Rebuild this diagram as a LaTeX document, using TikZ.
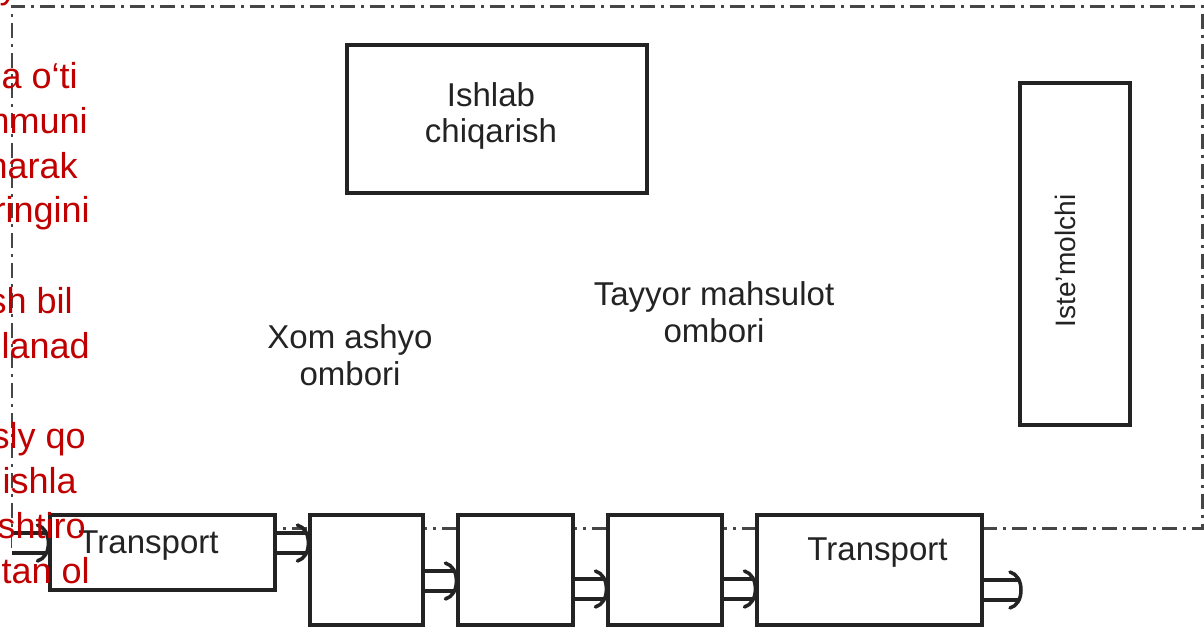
\documentclass[tikz,border=0pt]{standalone}
\usepackage{fontspec}
\setmainfont{Liberation Sans}
\usetikzlibrary{calc}
\definecolor{redtxt}{RGB}{192,0,0}
\definecolor{ink}{RGB}{35,35,35}
\definecolor{bnd}{RGB}{70,70,70}
\begin{document}
\begin{tikzpicture}[x=0.02cm,y=-0.02cm,
  box/.style={draw=ink, line width=0.065cm, fill=white, inner sep=0pt},
  lbl/.style={font=\fontsize{18.8pt}{21pt}\selectfont, text=ink, align=center, inner sep=0pt},
  dbl/.style={draw=ink, line width=0.08cm, double=white, double distance=0.33cm, shorten >=0.06cm},
  captip/.style={draw=ink, line width=0.07cm, line cap=round},
  bound/.style={draw=bnd, line width=0.06cm, dash pattern=on 0.3cm off 0.12cm on 0.06cm off 0.12cm},
  fragment/.style={font=\fontsize{20.5pt}{24pt}\selectfont, text=redtxt, anchor=base east, inner sep=0pt}]
\useasboundingbox (0,0) rectangle (1204,627);
\clip (0,0) rectangle (1204,627);
% enclosing boundary
\coordinate (bstart) at (12,548);
\coordinate (bend) at (275,528);
\draw[bound] (bstart) -- (12,6) -- (1202,6) -- (1202,528) -- (bend);
% top boxes
\node[box, minimum width=6cm, minimum height=2.96cm,
  label={[lbl, xshift=-0.12cm, yshift=0.06cm]center:Ishlab\\chiqarish}] (prod) at (497,119) {};
\node[box, minimum width=2.2cm, minimum height=6.84cm] (cons) at (1075,254) {};
\node[lbl, font=\fontsize{16pt}{19pt}\selectfont, rotate=90] (consl) at (1065,261) {Iste’molchi};
% bottom chain
\node[box, minimum width=4.5cm, minimum height=1.5cm,
  label={[lbl, xshift=-0.28cm, yshift=0.13cm]center:Transport}] (t1) at (162.5,552.5) {};
\node[box, minimum width=2.26cm, minimum height=2.2cm] (b2) at (366.5,570) {};
\node[box, minimum width=2.3cm, minimum height=2.2cm] (b3) at (515.5,570) {};
\node[box, minimum width=2.28cm, minimum height=2.2cm] (b4) at (665,570) {};
\node[box, minimum width=4.5cm, minimum height=2.2cm,
  label={[lbl, xshift=0.16cm, yshift=0.35cm]center:Transport}] (t2) at (869.5,570) {};
% flows
\coordinate (in) at (12,543);
\coordinate (out) at (1021,590);
\coordinate (f1a) at ([yshift=0.19cm]t1.east);
\coordinate (f2a) at ([yshift=-0.22cm]b2.east);
\coordinate (f3a) at ([yshift=-0.38cm]b3.east);
\coordinate (f4a) at ([yshift=-0.38cm]b4.east);
\coordinate (f5a) at (out -| t2.east);
\coordinate (f0b) at (in -| t1.west);
\coordinate (f1b) at (f1a -| b2.west);
\coordinate (f2b) at (f2a -| b3.west);
\coordinate (f3b) at (f3a -| b4.west);
\coordinate (f4b) at (f4a -| t2.west);
\foreach \s/\e in {in/f0b, f1a/f1b, f2a/f2b, f3a/f3b, f4a/f4b, f5a/out}{
  \draw[dbl] (\s) -- (\e);
  \draw[captip] ($(\e)+(-11,-18)$) .. controls ($(\e)+(-4,-16)$) and ($(\e)+(0,-9)$) .. (\e)
                .. controls ($(\e)+(0,9)$) and ($(\e)+(-4,16)$) .. ($(\e)+(-11,18)$);
}
% free labels
\node[lbl] (raw) at (350,355) {Xom ashyo\\ombori};
\node[lbl] (fin) at (714,312) {Tayyor mahsulot\\ombori};
% red text fragments
\node[fragment] (r0) at (60,-2) {y or};
\node[fragment] (r1) at (78,88) {a o‘ti};
\node[fragment] (r2) at (88,133) {mmuni};
\node[fragment] (r3) at (78,178) {narak};
\node[fragment] (r4) at (90,222) {ringini};
\node[fragment] (r5) at (73,313) {sh bil};
\node[fragment] (r6) at (90,358) {lanad};
\node[fragment] (r7) at (86,448) {sly qo};
\node[fragment] (r8) at (77,493) {ishla};
\node[fragment] (r9) at (86,538) {shtiro};
\node[fragment] (r10) at (90,583) {tan ol};
\end{tikzpicture}
\end{document}
